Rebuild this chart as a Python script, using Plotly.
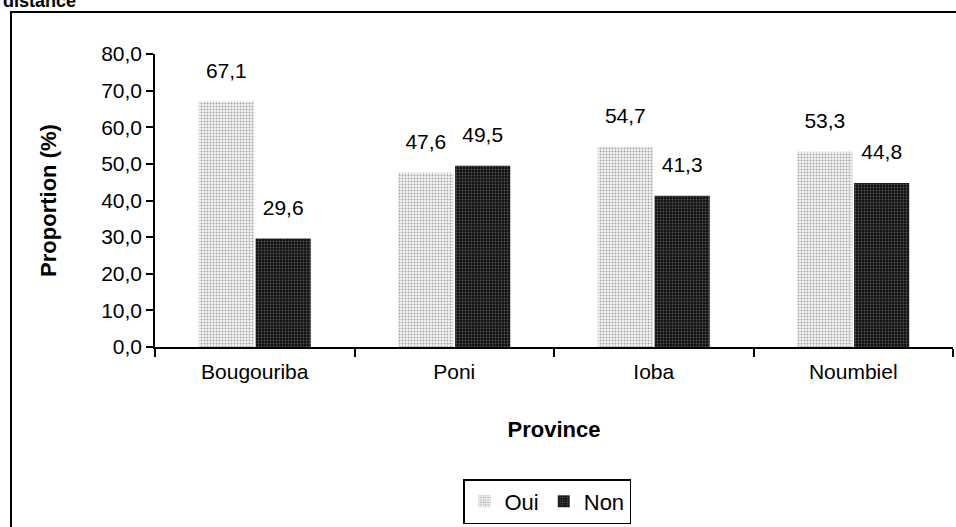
import plotly.graph_objects as go

provinces = ["Bougouriba", "Poni", "Ioba", "Noumbiel"]
oui = [67.1, 47.6, 54.7, 53.3]
non = [29.6, 49.5, 41.3, 44.8]
y_ticks = [0, 10, 20, 30, 40, 50, 60, 70, 80]

W, H = 956, 527
L, R, T = 155, 3, 54
B = H - 347
pw, ph = W - L - R, H - T - B


def px_to_paper_x(px):
    return (px - L) / pw


def px_to_paper_y(py):
    return 1 - (py - T) / ph


font = dict(family="Liberation Sans, Arial, sans-serif", size=21, color="black")

fig = go.Figure()
fig.add_bar(
    x=provinces, y=oui, name="Oui", offsetgroup="oui",
    marker=dict(color="white", line=dict(width=0),
                pattern=dict(shape=".", fgcolor="#555555", bgcolor="#f4f4f4",
                             size=3, solidity=0.35)),
)
fig.add_bar(
    x=provinces, y=non, name="Non", offsetgroup="non",
    marker=dict(color="#111111", line=dict(width=0),
                pattern=dict(shape=".", fgcolor="#9a9a9a", bgcolor="#111111",
                             size=3, solidity=0.3)),
)
# value labels
for name, vals in (("oui", oui), ("non", non)):
    fig.add_scatter(
        x=provinces, y=vals, offsetgroup=name, mode="markers+text",
        text=[f"{v:.1f}".replace(".", ",") for v in vals],
        textposition="top center", textfont=font,
        marker=dict(size=28, color="rgba(0,0,0,0)"),
        showlegend=False, hoverinfo="skip",
    )

fig.update_layout(
    width=W, height=H,
    margin=dict(l=L, r=R, t=T, b=B),
    paper_bgcolor="white", plot_bgcolor="white",
    font=font,
    separators=", ",
    barmode="group", bargap=0.43, bargroupgap=0.03,
    scattermode="group", scattergap=0.43,
    showlegend=True,
    legend=dict(orientation="h", x=px_to_paper_x(463),
                xanchor="left", y=px_to_paper_y(479), yanchor="top",
                bordercolor="black", borderwidth=1.5, bgcolor="white",
                font=dict(size=22), itemwidth=30, tracegroupgap=0),
    xaxis=dict(
        showline=True, linecolor="black", linewidth=1.5,
        ticks="outside", tickson="boundaries", ticklen=8, tickcolor="black", tickwidth=1.5,
        ticklabelstandoff=5,
        title=dict(text="<b>Province</b>", font=dict(size=22), standoff=40),
        showgrid=False, tickfont=font,
    ),
    yaxis=dict(
        range=[0, 80], tickvals=y_ticks, tickformat=".1f",
        showline=True, linecolor="black", linewidth=1.5,
        ticks="outside", ticklen=7, tickcolor="black", tickwidth=1.5,
        showgrid=False, zeroline=False, tickfont=font,
        title=dict(text="<b>Proportion (%)</b>", font=dict(size=22), standoff=38),
    ),
    shapes=[dict(type="rect", xref="paper", yref="paper",
                 x0=px_to_paper_x(11), x1=px_to_paper_x(W + 30),
                 y0=px_to_paper_y(H + 30), y1=px_to_paper_y(12),
                 line=dict(color="black", width=2), fillcolor="rgba(0,0,0,0)", layer="below")],
    annotations=[dict(text="<b>distance</b>", xref="paper", yref="paper",
                      x=px_to_paper_x(1), xanchor="left",
                      y=px_to_paper_y(1), yanchor="middle",
                      showarrow=False, font=dict(size=18))],
)

fig.write_html("out.html",
               config={"displayModeBar": False},
               post_script="document.body.style.margin='0';")
